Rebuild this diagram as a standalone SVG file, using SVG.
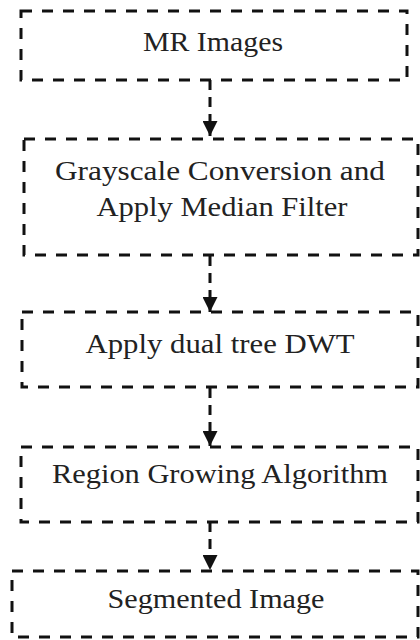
<svg xmlns="http://www.w3.org/2000/svg" width="420" height="640" viewBox="0 0 420 640">
  <defs>
    <style>
      .box { fill: none; stroke: #111; stroke-width: 3; stroke-dasharray: 11 10; }
      .conn { stroke: #111; stroke-width: 3; stroke-dasharray: 10 7; fill: none; }
      .lbl { font-family: "Liberation Serif", "Times New Roman", serif; font-size: 27px; fill: #222; text-anchor: middle; }
    </style>
    <marker id="arrow" viewBox="0 0 10 10" refX="10" refY="5" markerWidth="15" markerHeight="15" markerUnits="userSpaceOnUse" orient="auto">
      <path d="M0,0 L10,5 L0,10 Z" fill="#111"/>
    </marker>
  </defs>
  <rect width="420" height="640" fill="#fff"/>

  <g id="connectors">
    <line class="conn" x1="210" y1="80" x2="210" y2="136" marker-end="url(#arrow)"/>
    <line class="conn" x1="210" y1="256" x2="210" y2="312" marker-end="url(#arrow)"/>
    <line class="conn" x1="210" y1="388" x2="210" y2="446" marker-end="url(#arrow)"/>
    <line class="conn" x1="210" y1="522" x2="210" y2="570" marker-end="url(#arrow)"/>
  </g>

  <g id="node-mr-images">
    <rect class="box" x="21" y="11" width="386" height="69"/>
    <text class="lbl" x="213" y="51" textLength="140" lengthAdjust="spacingAndGlyphs">MR Images</text>
  </g>

  <g id="node-grayscale">
    <rect class="box" x="24" y="139" width="394" height="116"/>
    <text class="lbl" x="220" y="180" textLength="330" lengthAdjust="spacingAndGlyphs">Grayscale Conversion and</text>
    <text class="lbl" x="222" y="216" textLength="251" lengthAdjust="spacingAndGlyphs">Apply Median Filter</text>
  </g>

  <g id="node-dwt">
    <rect class="box" x="22" y="312" width="396" height="75"/>
    <text class="lbl" x="220" y="353" textLength="269" lengthAdjust="spacingAndGlyphs">Apply dual tree DWT</text>
  </g>

  <g id="node-region-growing">
    <rect class="box" x="21" y="447" width="397" height="75"/>
    <text class="lbl" x="220" y="483" textLength="336" lengthAdjust="spacingAndGlyphs">Region Growing Algorithm</text>
  </g>

  <g id="node-segmented">
    <rect class="box" x="12" y="571" width="406" height="66"/>
    <text class="lbl" x="216" y="608" textLength="217" lengthAdjust="spacingAndGlyphs">Segmented Image</text>
  </g>
</svg>
